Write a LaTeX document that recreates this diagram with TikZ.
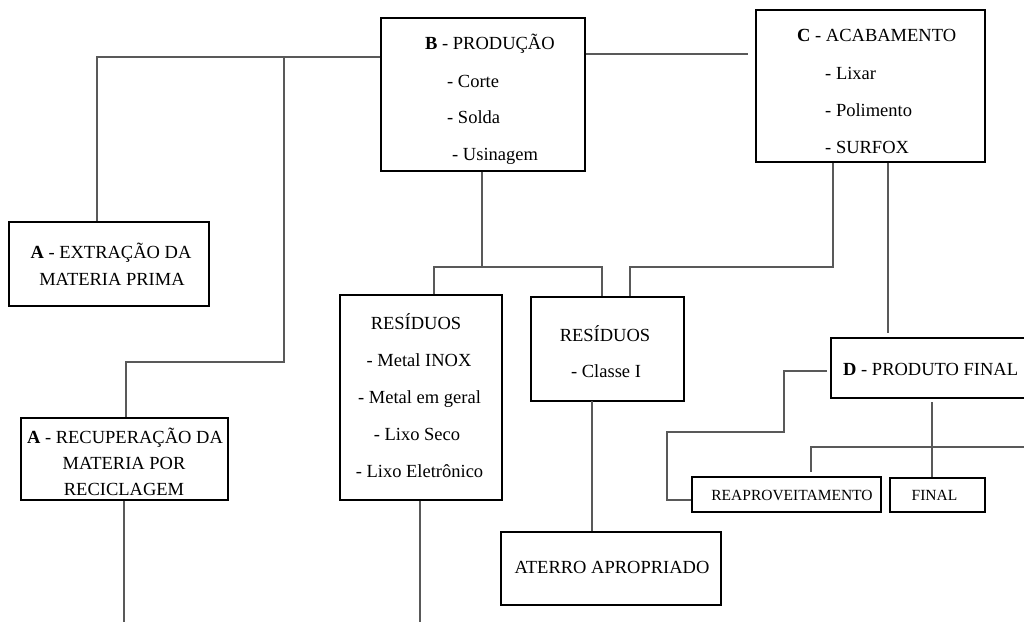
\documentclass[tikz,border=0pt]{standalone}
\usepackage{fontspec}
\setmainfont{Liberation Serif}
\begin{document}
\begin{tikzpicture}[x=1pt,y=-1pt,
  box/.style={draw=black,line width=1.3pt,inner sep=0pt},
  conn/.style={draw=black!65,line width=1.2pt},
  txt/.style={font=\fontsize{18.5}{22}\selectfont,inner sep=0pt,anchor=base},
  txtl/.style={txt,anchor=base west},
  stxt/.style={font=\fontsize{15.5}{18}\selectfont,inner sep=0pt,anchor=base}]
\useasboundingbox[fill=white] (0,0) rectangle (1024,622);
% boxes
\node[box,minimum width=204pt,minimum height=153pt] (B) at (483,94.5) {};
\node[box,minimum width=229pt,minimum height=152pt] (C) at (870.5,86) {};
\node[box,minimum width=200pt,minimum height=84pt] (Aext) at (109,264) {};
\node[box,minimum width=207pt,minimum height=82pt] (Arec) at (124.5,459) {};
\node[box,minimum width=162pt,minimum height=205pt] (R1) at (421,397.5) {};
\node[box,minimum width=153pt,minimum height=104pt] (R2) at (607.5,349) {};
\node[box,minimum width=220pt,minimum height=73pt] (At) at (611,568.5) {};
\node[box,minimum width=200pt,minimum height=60pt] (D) at (931,368) {};
\node[box,line width=1.1pt,minimum width=189pt,minimum height=35pt] (Re) at (786.5,494.5) {};
\node[box,line width=1.1pt,minimum width=95pt,minimum height=34pt] (Fi) at (937.5,495) {};
% texts
\node[txtl] (Bt1) at (425,49.5) {\textbf{B} - PRODUÇÃO};
\node[txtl] (Bt2) at (447,87.5) {- Corte};
\node[txtl] (Bt3) at (447,123.5) {- Solda};
\node[txtl] (Bt4) at (452,160.5) {- Usinagem};
\node[txtl] (Ct1) at (797,41.5) {\textbf{C} - ACABAMENTO};
\node[txtl] (Ct2) at (825,79.5) {- Lixar};
\node[txtl] (Ct3) at (825,116.5) {- Polimento};
\node[txtl] (Ct4) at (825,153.5) {- SURFOX};
\node[txt] (Aet1) at (111,258.5) {\textbf{A} - EXTRAÇÃO DA};
\node[txt] (Aet2) at (112,285.5) {MATERIA PRIMA};
\node[txt] (Art1) at (125,443.5) {\textbf{A} - RECUPERAÇÃO DA};
\node[txt] (Art2) at (124,469.5) {MATERIA POR};
\node[txt] (Art3) at (124,495) {RECICLAGEM};
\node[txt] (R1t1) at (416,329) {RESÍDUOS};
\node[txt] (R1t2) at (419,366.5) {- Metal INOX};
\node[txt] (R1t3) at (419.5,403.5) {- Metal em geral};
\node[txt] (R1t4) at (417,440.5) {- Lixo Seco};
\node[txt] (R1t5) at (419.5,477.5) {- Lixo Eletrônico};
\node[txt] (R2t1) at (605,341) {RESÍDUOS};
\node[txt] (R2t2) at (606,377.5) {- Classe I};
\node[txt] (Att) at (612,573) {ATERRO APROPRIADO};
\node[txtl] (Dt) at (843,375) {\textbf{D} - PRODUTO FINAL};
\node[stxt] (Ret) at (792,500) {REAPROVEITAMENTO};
\node[stxt] (Fit) at (934.5,500) {FINAL};
% connectors
\coordinate (j1) at (97,57);
\coordinate (j2) at (284,57);
\coordinate (j3) at (284,362);
\coordinate (j4) at (126,362);
\draw[conn] (B.west |- j1) -- (j1) -- (j1 |- Aext.north);
\draw[conn] (j2) -- (j3) -- (j4) -- (j4 |- Arec.north);
\coordinate (cB) at (748,54);
\draw[conn] (B.east |- cB) -- (cB);
\coordinate (bB) at (482,267);
\coordinate (bL) at (434,267);
\coordinate (bR) at (602,267);
\draw[conn] (bB |- B.south) -- (bB);
\draw[conn] (bL |- R1.north) -- (bL) -- (bR) -- (bR |- R2.north);
\coordinate (c1) at (833,267);
\coordinate (c2) at (630,267);
\draw[conn] (c1 |- C.south) -- (c1) -- (c2) -- (c2 |- R2.north);
\coordinate (c3) at (888,333);
\draw[conn] (c3 |- C.south) -- (c3);
\coordinate (d1) at (827,371);
\coordinate (d2) at (784,371);
\coordinate (d3) at (784,432);
\coordinate (d4) at (667,432);
\coordinate (d5) at (667,500);
\draw[conn] (d1) -- (d2) -- (d3) -- (d4) -- (d5) -- (Re.west |- d5);
\coordinate (d6) at (932,402);
\draw[conn] (d6) -- (d6 |- Fi.north);
\coordinate (h1) at (811,447);
\coordinate (h2) at (1024,447);
\coordinate (h3) at (811,472);
\draw[conn] (h2) -- (h1) -- (h3);
\coordinate (r1b) at (420,622);
\draw[conn] (r1b |- R1.south) -- (r1b);
\coordinate (r2b) at (592,401);
\draw[conn] (r2b) -- (r2b |- At.north);
\coordinate (ab) at (124,622);
\draw[conn] (ab |- Arec.south) -- (ab);
\end{tikzpicture}
\end{document}
